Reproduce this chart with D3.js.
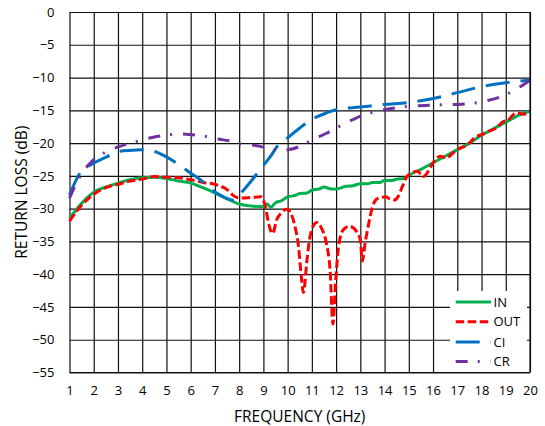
<!DOCTYPE html>
<html>
<head>
<meta charset="utf-8">
<script src="https://cdn.jsdelivr.net/npm/d3@7"></script>
<style>
    body { margin: 0; background: #fff; }
    text { font-family: "Open Sans", "Noto Sans", sans-serif; fill: #000; }
</style>
</head>
<body>
<div id="graph"></div>
<script>
// Frequency (GHz) and return loss (dB)
var inFreq = [1, 1.5, 2, 2.5, 3, 3.5, 4, 4.5, 5, 5.5, 6, 6.5, 7, 7.5, 8, 8.5, 9, 9.15, 9.3, 9.5, 9.75, 10, 10.3, 10.5, 10.8, 11, 11.3, 11.5, 11.8, 12, 12.4, 12.7, 13, 13.3, 13.5, 13.8, 14, 14.3, 14.5, 14.8, 15, 15.5, 16, 16.5, 17, 17.5, 18, 18.5, 19, 19.5, 20];
var inLoss = [-31.5, -29.2, -27.5, -26.7, -26.1, -25.6, -25.3, -25.2, -25.4, -25.8, -26.1, -26.8, -27.6, -28.5, -29.3, -29.6, -29.7, -29.3, -29.8, -29.1, -28.8, -28.2, -28.0, -27.7, -27.6, -27.2, -27.0, -26.7, -27.0, -27.0, -26.6, -26.5, -26.2, -26.2, -26.0, -26.0, -25.7, -25.7, -25.5, -25.4, -24.9, -24.0, -23.0, -22.0, -21.0, -20.0, -18.8, -17.8, -16.8, -15.8, -15.1];

var outFreq = [1, 1.5, 2, 2.5, 3, 3.5, 4, 4.5, 5, 5.5, 6, 6.5, 7, 7.5, 7.8, 8, 8.5, 8.9, 9.1, 9.2, 9.38, 9.55, 9.75, 9.95, 10.1, 10.3, 10.45, 10.55, 10.65, 10.8, 10.9, 11.05, 11.2, 11.4, 11.6, 11.75, 11.87, 11.97, 12.1, 12.3, 12.55, 12.85, 13, 13.08, 13.2, 13.35, 13.5, 13.65, 13.85, 14.05, 14.2, 14.4, 14.55, 14.75, 14.9, 15.1, 15.35, 15.6, 15.8, 16, 16.3, 16.55, 16.8, 17.1, 17.3, 17.5, 17.7, 18, 18.3, 18.6, 18.9, 19.1, 19.3, 19.5, 19.75, 20];
var outLoss = [-31.9, -29.5, -27.8, -26.8, -26.3, -25.8, -25.5, -25.1, -25.2, -25.3, -25.6, -26.0, -26.3, -27.1, -28.1, -28.4, -28.3, -28.2, -30.0, -32.0, -33.8, -31.7, -30.6, -30.1, -30.5, -32.7, -35.8, -39.8, -42.8, -37.8, -34.8, -32.7, -32.1, -33.0, -35.3, -39.3, -47.6, -41.8, -35.8, -33.2, -32.7, -33.5, -34.8, -38.0, -35.2, -32.2, -29.7, -28.6, -28.3, -28.2, -28.5, -28.7, -28.2, -26.5, -25.2, -24.6, -24.3, -25.1, -24.3, -23.0, -22.0, -22.3, -21.6, -20.8, -20.5, -20.0, -19.2, -18.7, -18.2, -17.7, -16.7, -16.5, -15.7, -15.4, -15.6, -15.1];

var ciFreq = [1, 1.43, 1.98, 2.53, 3, 3.6, 4, 4.45, 5, 5.55, 6, 6.4, 6.9, 7.35, 7.75, 8, 8.45, 9, 9.3, 9.55, 10, 10.5, 11, 11.6, 12, 13, 14, 15, 16, 17, 18, 19, 20];
var ciLoss = [-27.9, -24.6, -23.1, -22.1, -21.3, -21.1, -21.0, -21.2, -22.1, -23.4, -24.6, -25.6, -27.2, -28.2, -28.7, -27.9, -26.0, -23.4, -22.0, -20.6, -19.2, -17.7, -16.4, -15.4, -14.9, -14.5, -14.1, -13.8, -13.2, -12.3, -11.4, -10.8, -10.4];

var crFreq = [1, 1.43, 1.98, 2.53, 3, 3.63, 4, 4.46, 5, 5.56, 6, 6.5, 7, 7.76, 8, 8.58, 9, 9.55, 10, 10.5, 11, 11.6, 12, 12.7, 13, 14, 15, 16, 17, 18, 19, 19.55, 20];
var crLoss = [-28.4, -25.1, -22.6, -21.3, -20.6, -19.9, -19.5, -19.1, -18.8, -18.6, -18.7, -18.9, -19.3, -19.8, -20.1, -20.3, -20.6, -21.0, -21.0, -20.5, -19.5, -18.5, -17.7, -16.4, -15.9, -14.9, -14.4, -14.2, -14.1, -13.7, -12.6, -11.5, -10.4];

var xTicks = d3.range(1, 21);
var yTicks = [0, -5, -10, -15, -20, -25, -30, -35, -40, -45, -50, -55];

var series = [
    {name: "IN", freq: inFreq, loss: inLoss, color: "#00B050", dash: null},
    {name: "OUT", freq: outFreq, loss: outLoss, color: "#FF0000", dash: "8.5,3.5"},
    {name: "CI", freq: ciFreq, loss: ciLoss, color: "#0070C0", dash: "24,11"},
    {name: "CR", freq: crFreq, loss: crLoss, color: "#7030A0", dash: "12,10,2,11"}
];

// Set the dimensions and margins of the diagram
var margin = {top: 12, right: 15, bottom: 53.5, left: 69.5},
    width = 545 - margin.left - margin.right,
    height = 426 - margin.top - margin.bottom;

var svg = d3.select("#graph").append("svg")
    .attr("width", 545)
    .attr("height", 426)
  .append("g")
    .attr("transform", "translate(" + margin.left + "," + margin.top + ")");

var x = d3.scaleLinear().domain([1, 20]).range([0, width]);
var y = d3.scaleLinear().domain([-55, 0]).range([height, 0]);

// grid lines
svg.append("g")
    .attr("class", "grid")
    .call(d3.axisBottom(x).tickValues(xTicks).tickSize(-height).tickFormat(""))
    .attr("transform", "translate(0," + height + ")")
    .call(function(g) { g.select(".domain").remove(); })
    .selectAll("line").attr("stroke", "#111").attr("stroke-width", 1.2);

svg.append("g")
    .attr("class", "grid")
    .call(d3.axisLeft(y).tickValues(yTicks).tickSize(-width).tickFormat(""))
    .call(function(g) { g.select(".domain").remove(); })
    .selectAll("line").attr("stroke", "#111").attr("stroke-width", 1.2);

// tick labels
var xAxis = svg.append("g")
    .attr("transform", "translate(0," + height + ")")
    .call(d3.axisBottom(x).tickValues(xTicks).tickSize(0).tickPadding(13).tickFormat(d3.format("d")));
xAxis.select(".domain").remove();
xAxis.selectAll("text").style("font-size", "13px").style("font-family", "'Open Sans', sans-serif");

var yAxis = svg.append("g")
    .call(d3.axisLeft(y).tickValues(yTicks).tickSize(0).tickPadding(15).tickFormat(d3.format("d")));
yAxis.select(".domain").remove();
yAxis.selectAll("text").style("font-size", "13px").style("font-family", "'Open Sans', sans-serif");

// the curves
var line = d3.line()
    .x(function(d) { return x(d[0]); })
    .y(function(d) { return y(d[1]); })
    .curve(d3.curveMonotoneX);

series.forEach(function(s) {
    var pts = s.freq.map(function(f, i) { return [f, s.loss[i]]; });
    svg.append("path")
        .datum(pts)
        .attr("fill", "none")
        .attr("stroke", s.color)
        .attr("stroke-width", 3)
        .attr("stroke-dasharray", s.dash)
        .attr("d", line);
});

// legend box covers the grid in the corner
var lg = svg.append("g").attr("transform", "translate(" + (450 - margin.left) + "," + (291 - margin.top) + ")");
lg.append("rect")
    .attr("width", 77)
    .attr("height", height - (291 - margin.top))
    .attr("fill", "#fff");

series.forEach(function(s, i) {
    var row = [11, 30.7, 51, 70.5][i];
    lg.append("line")
        .attr("x1", 5.7).attr("x2", 41)
        .attr("y1", row).attr("y2", row)
        .attr("stroke", s.color)
        .attr("stroke-width", 3)
        .attr("stroke-dasharray", s.dash);
    lg.append("text")
        .attr("x", 43.5)
        .attr("y", row)
        .attr("dy", ".35em")
        .style("font-size", "13px")
        .text(s.name);
});

// bottom and right border over the legend
svg.append("line")
    .attr("x1", 0).attr("x2", width).attr("y1", height).attr("y2", height)
    .attr("stroke", "#111").attr("stroke-width", 1.2);
svg.append("line")
    .attr("x1", width).attr("x2", width).attr("y1", 0).attr("y2", height)
    .attr("stroke", "#111").attr("stroke-width", 1.2);

// axis titles
svg.append("text")
    .attr("x", width / 2)
    .attr("y", height + 49)
    .attr("text-anchor", "middle")
    .style("font-size", "15.5px")
    .text("FREQUENCY (GHz)");

svg.append("text")
    .attr("transform", "rotate(-90)")
    .attr("x", -height / 2)
    .attr("y", -43)
    .attr("text-anchor", "middle")
    .style("font-size", "15.5px")
    .text("RETURN LOSS (dB)");
</script>
</body>
</html>
